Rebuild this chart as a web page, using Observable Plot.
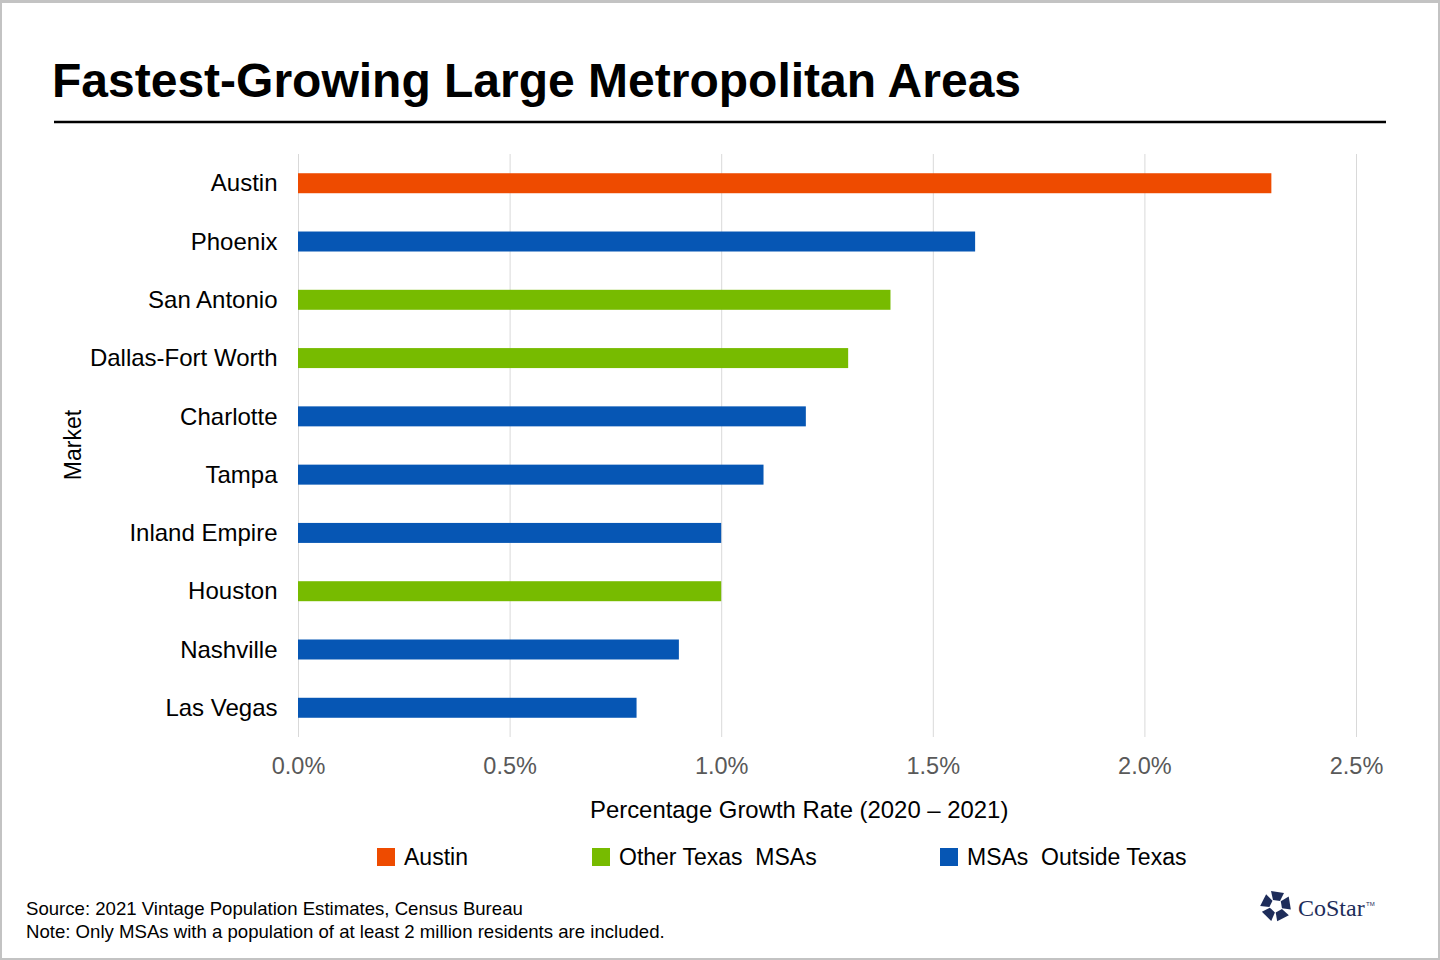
<!DOCTYPE html>
<html><head><meta charset="utf-8">
<script src="https://cdn.jsdelivr.net/npm/d3@7"></script>
<script src="https://cdn.jsdelivr.net/npm/@observablehq/plot@0.6"></script>
<style>
body{margin:0;background:#fff;font-family:"Liberation Sans",Arial,sans-serif;}
#frame{position:relative;width:1440px;height:960px;overflow:hidden;background:#fff}
#chart{position:absolute;left:0;top:140px}
#overlay{position:absolute;left:0;top:0}
#border{position:absolute;left:0;top:0;width:1440px;height:960px;box-sizing:border-box;border:2px solid #c3c3c3;border-top-width:3px;pointer-events:none}
</style></head>
<body>
<div id="frame">
  <div id="chart"></div>
  <svg id="overlay" width="1440" height="960" font-family="Liberation Sans, Arial, sans-serif"></svg>
  <div id="border"></div>
</div>
<script>
const markets = ["Austin","Phoenix","San Antonio","Dallas-Fort Worth","Charlotte","Tampa","Inland Empire","Houston","Nashville","Las Vegas"];
const growth = [2.3,1.6,1.4,1.3,1.2,1.1,1.0,1.0,0.9,0.8];
const groups = ["Austin","MSAs  Outside Texas","Other Texas  MSAs","Other Texas  MSAs","MSAs  Outside Texas","MSAs  Outside Texas","MSAs  Outside Texas","Other Texas  MSAs","MSAs  Outside Texas","MSAs  Outside Texas"];
const groupNames = ["Austin","Other Texas  MSAs","MSAs  Outside Texas"];
const groupColors = ["#EE4B00","#77BB00","#0656B4"];
const xTicks = [0,0.5,1,1.5,2,2.5];

const data = markets.map((m,i)=>({market:m, growth:growth[i], group:groups[i]}));

const chart = Plot.plot({
  width:1440, height:640,
  marginTop:14, marginBottom:43, marginLeft:298, marginRight:84,
  style:{fontFamily:"Liberation Sans, Arial, sans-serif", fontSize:"24px", background:"transparent"},
  x:{domain:[0,2.5], axis:null},
  y:{domain:markets, axis:null, paddingInner:0.657, paddingOuter:0.33, round:false},
  color:{domain:groupNames, range:groupColors},
  marks:[
    Plot.gridX(xTicks,{stroke:"#d9d9d9", strokeOpacity:1, strokeWidth:1}),
    Plot.barX(data,{x:"growth", y:"market", fill:"group"}),
    Plot.axisX({ticks:xTicks, tickSize:0, tickPadding:20, fontSize:23.5, fill:"#595959", tickFormat:d=>d.toFixed(1)+"%", label:null}),
    Plot.axisY({tickSize:0, tickPadding:21, fontSize:24, fill:"#000", label:null})
  ]
});
document.getElementById("chart").appendChild(chart);

const svg = d3.select("#overlay");
svg.append("text").attr("x",52).attr("y",97).attr("font-size",48).attr("font-weight","bold").attr("fill","#000").text("Fastest-Growing Large Metropolitan Areas");
svg.append("line").attr("x1",54).attr("x2",1386).attr("y1",122).attr("y2",122).attr("stroke","#000").attr("stroke-width",2.5);
svg.append("text").attr("x",590).attr("y",818).attr("font-size",23.9).attr("fill","#000").text("Percentage Growth Rate (2020 \u2013 2021)");
svg.append("text").attr("transform","translate(81,445) rotate(-90)").attr("text-anchor","middle").attr("font-size",23).attr("fill","#000").text("Market");

const legX = [377,592,940];
groupNames.forEach((g,i)=>{
  svg.append("rect").attr("x",legX[i]).attr("y",848).attr("width",18).attr("height",18).attr("fill",groupColors[i]);
  svg.append("text").attr("x",legX[i]+27).attr("y",865).attr("font-size",23).attr("fill","#000").attr("xml:space","preserve").style("white-space","pre").text(g);
});

svg.append("text").attr("x",26).attr("y",915).attr("font-size",18.6).attr("fill","#000").text("Source: 2021 Vintage Population Estimates, Census Bureau");
svg.append("text").attr("x",26).attr("y",938).attr("font-size",18.6).attr("fill","#000").text("Note: Only MSAs with a population of at least 2 million residents are included.");

// CoStar logo
const logo = svg.append("g").attr("transform","translate(1276,906)");
for(let i=0;i<5;i++){
  logo.append("polygon").attr("points","-5,-15 8,-13 4,-5 -3,-6").attr("fill","#1e2d5a").attr("transform",`rotate(${72*i})`);
}
svg.append("text").attr("x",1298).attr("y",916).attr("font-size",24).attr("font-family","Liberation Serif, DejaVu Serif, serif").attr("fill","#1e2d5a").text("CoStar");
svg.append("text").attr("x",1366).attr("y",906).attr("font-size",6).attr("fill","#1e2d5a").text("TM");
</script>
</body></html>
